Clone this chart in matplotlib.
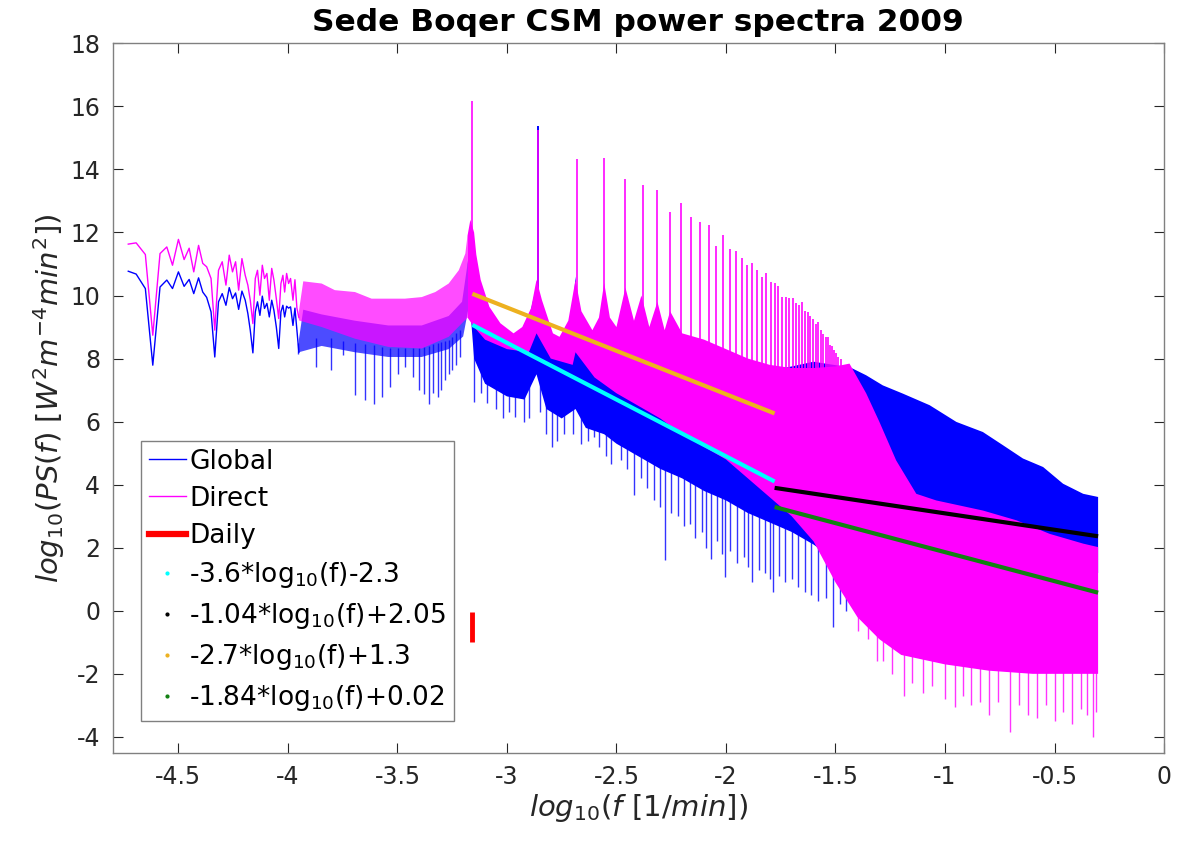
import numpy as np
import matplotlib
matplotlib.use('Agg')
import matplotlib.pyplot as plt
from matplotlib.lines import Line2D
from matplotlib.ticker import FuncFormatter

plt.rcParams['font.family'] = ['DejaVu Sans']
plt.rcParams['axes.unicode_minus'] = False
plt.rcParams['mathtext.fontset'] = 'dejavusans'

# ---------------- data ----------------
# low-frequency part of the spectra (individual points)
lf_x = [-4.729, -4.693, -4.651, -4.617, -4.584, -4.553, -4.527, -4.500, -4.474, -4.451,
        -4.430, -4.408, -4.389, -4.371, -4.351, -4.334, -4.317, -4.300, -4.283, -4.268,
        -4.253, -4.239, -4.225, -4.210, -4.195, -4.183, -4.172, -4.160, -4.149, -4.139,
        -4.128, -4.117, -4.107, -4.096, -4.085, -4.074, -4.064, -4.053, -4.042, -4.032,
        -4.023, -4.015, -4.006, -3.997, -3.988, -3.977, -3.968, -3.959, -3.950]
direct_lf = [11.63, 11.67, 11.30, 8.74, 11.33, 11.54, 10.96, 11.78, 11.14, 11.50,
             10.75, 11.59, 11.02, 10.91, 10.54, 8.90, 10.80, 11.07, 10.33, 11.28,
             10.75, 11.07, 10.17, 11.17, 10.64, 10.33, 9.85, 9.11, 10.54, 10.80,
             10.01, 10.96, 10.54, 10.70, 9.85, 10.86, 10.49, 9.90, 9.27, 10.38,
             10.64, 10.11, 10.70, 10.38, 10.54, 9.85, 10.50, 9.60, 9.30]
global_lf = [10.77, 10.68, 10.22, 7.79, 10.27, 10.49, 10.22, 10.75, 10.29, 10.51,
             10.06, 10.56, 10.11, 9.94, 9.48, 8.05, 9.80, 10.06, 9.69, 10.25,
             9.90, 10.08, 9.56, 10.14, 9.85, 9.43, 8.90, 8.18, 9.48, 9.80,
             9.37, 9.98, 9.59, 9.75, 9.32, 9.85, 9.53, 9.00, 8.32, 9.48,
             9.69, 9.32, 9.66, 9.60, 9.64, 9.05, 9.60, 8.90, 8.20]

# dense part: envelopes of the Direct spectrum
dir_up_x = [-3.950, -3.930, -3.846, -3.786, -3.694, -3.618, -3.542, -3.466, -3.389, -3.327,
            -3.266, -3.220, -3.190, -3.180, -3.167, -3.150, -3.140, -3.120, -3.080, -3.030,
            -2.970, -2.930, -2.890, -2.865, -2.840, -2.790, -2.760, -2.720, -2.687, -2.660,
            -2.610, -2.580, -2.556, -2.530, -2.500, -2.459, -2.420, -2.386, -2.350, -2.313,
            -2.280, -2.255, -2.200, -2.100, -2.000, -1.900, -1.800, -1.700, -1.600, -1.500,
            -1.436, -1.360, -1.300, -1.223, -1.131, -1.040, -0.827, -0.674, -0.522, -0.369,
            -0.301]
dir_up_y = [9.50, 10.45, 10.38, 10.17, 10.11, 9.90, 9.90, 9.90, 9.95, 10.11,
            10.38, 10.80, 11.33, 11.90, 12.40, 12.00, 11.30, 10.50, 9.64, 9.12,
            8.80, 9.00, 9.60, 10.50, 9.85, 8.80, 8.69, 9.20, 10.50, 9.50,
            8.90, 9.30, 10.40, 9.30, 9.00, 10.25, 9.20, 10.00, 9.00, 9.80,
            8.90, 9.50, 8.80, 8.60, 8.30, 8.00, 7.80, 7.70, 7.70, 7.75,
            7.84, 6.90, 6.00, 4.77, 3.71, 3.50, 3.18, 2.87, 2.44, 2.13,
            2.02]
dir_lo_x = [-3.950, -3.846, -3.694, -3.542, -3.389, -3.266, -3.180, -3.150, -3.100, -3.000,
            -2.900, -2.865, -2.800, -2.700, -2.687, -2.600, -2.500, -2.400, -2.300, -2.200,
            -2.100, -2.000, -1.900, -1.800, -1.700, -1.600, -1.500, -1.400, -1.300, -1.200,
            -1.000, -0.800, -0.600, -0.301]
dir_lo_y = [9.21, 9.00, 8.63, 8.37, 8.32, 8.69, 9.30, 9.00, 8.60, 8.30,
            8.20, 8.80, 8.00, 7.80, 8.20, 7.40, 6.90, 6.50, 6.10, 5.60,
            5.20, 4.80, 4.20, 3.60, 3.00, 2.20, 0.90, -0.20, -0.90, -1.40,
            -1.70, -1.90, -2.00, -2.00]
dir_spike_x = [-1.397, -1.350, -1.310, -1.281, -1.240, -1.187, -1.150, -1.100, -1.060, -1.000,
               -0.956, -0.920, -0.880, -0.840, -0.800, -0.760, -0.704, -0.660, -0.620, -0.580,
               -0.540, -0.500, -0.460, -0.420, -0.380, -0.350, -0.326, -0.310]
dir_spike_y = [-0.63, -0.90, -1.60, -1.58, -2.00, -2.69, -2.30, -2.60, -2.40, -2.80,
               -3.06, -2.70, -3.00, -2.90, -3.30, -2.90, -3.85, -3.00, -3.30, -3.40,
               -3.00, -3.50, -3.20, -3.60, -3.10, -3.30, -4.00, -3.20]

# dense part: envelopes of the Global spectrum
glob_up_x = [-3.950, -3.930, -3.846, -3.694, -3.542, -3.389, -3.266, -3.205, -3.180, -3.160,
             -3.140, -3.100, -3.000, -2.920, -2.865, -2.840, -2.760, -2.710, -2.687, -2.660,
             -2.600, -2.556, -2.520, -2.459, -2.420, -2.386, -2.350, -2.313, -2.200, -2.000,
             -1.800, -1.600, -1.436, -1.421, -1.360, -1.284, -1.193, -1.070, -0.948, -0.827,
             -0.735, -0.644, -0.552, -0.461, -0.369, -0.301]
glob_up_y = [8.60, 9.55, 9.40, 9.20, 9.05, 9.05, 9.35, 9.80, 11.00, 12.05,
             10.30, 9.20, 8.80, 8.70, 10.30, 8.60, 8.30, 8.50, 10.60, 8.20,
             7.90, 9.60, 7.60, 8.80, 7.30, 8.30, 7.10, 8.00, 7.20, 7.30,
             7.60, 7.90, 7.72, 7.68, 7.47, 7.15, 6.89, 6.52, 5.99, 5.67,
             5.25, 4.83, 4.56, 4.03, 3.71, 3.61]
glob_lo_x = [-3.950, -3.846, -3.694, -3.542, -3.389, -3.266, -3.200, -3.170, -3.150, -3.100,
             -3.000, -2.920, -2.865, -2.820, -2.750, -2.687, -2.640, -2.556, -2.500, -2.400,
             -2.300, -2.200, -2.100, -2.000, -1.900, -1.800, -1.700, -1.600, -1.500, -1.400,
             -0.301]
glob_lo_y = [8.20, 8.40, 8.20, 8.05, 8.05, 8.30, 8.70, 9.80, 8.00, 7.20,
             6.80, 6.70, 7.50, 6.40, 6.10, 6.40, 5.80, 5.60, 5.30, 4.90,
             4.50, 4.20, 3.80, 3.50, 3.10, 2.80, 2.50, 2.10, 1.60, 1.20,
             1.20]
glob_spike_x = [-3.952, -3.873, -3.805, -3.747, -3.696, -3.650, -3.608, -3.571, -3.536, -3.499,
                -3.464, -3.430, -3.400, -3.381, -3.358, -3.337, -3.317, -3.299, -3.281, -3.266,
                -3.251, -3.232, -3.213, -3.152, -3.120, -3.090, -3.050, -3.020, -2.990, -2.961,
                -2.923, -2.900, -2.850, -2.820, -2.794, -2.770, -2.740, -2.700, -2.660, -2.630,
                -2.603, -2.580, -2.550, -2.527, -2.481, -2.450, -2.420, -2.390, -2.360, -2.330,
                -2.300, -2.279, -2.250, -2.220, -2.190, -2.164, -2.140, -2.110, -2.090, -2.069,
                -2.040, -2.020, -2.006, -1.980, -1.950, -1.920, -1.901, -1.879, -1.850, -1.820,
                -1.800, -1.785, -1.760, -1.730, -1.700, -1.670, -1.640, -1.610, -1.580, -1.545,
                -1.512, -1.480, -1.450]
glob_spike_y = [8.16, 7.73, 7.63, 8.10, 6.84, 6.68, 6.57, 6.78, 7.10, 7.52,
                7.73, 7.40, 7.00, 6.89, 6.57, 6.90, 6.78, 7.00, 7.31, 7.50,
                7.63, 7.80, 8.05, 6.62, 6.90, 6.60, 6.40, 6.10, 6.30, 6.15,
                5.99, 6.10, 6.30, 5.60, 5.19, 5.40, 5.60, 5.60, 5.30, 5.40,
                5.51, 5.20, 4.90, 4.67, 4.77, 4.50, 3.66, 4.20, 3.90, 3.50,
                3.30, 1.60, 3.10, 3.00, 2.70, 2.76, 2.30, 2.50, 2.00, 1.65,
                2.20, 1.80, 1.07, 1.90, 1.50, 1.70, 1.38, 0.91, 1.30, 1.20,
                1.00, 0.59, 1.10, 0.90, 1.00, 0.75, 0.60, 0.50, 0.30, 0.40,
                -0.52, 0.20, 0.00]

# harmonics of the daily cycle (k cycles per day) and their peak heights
direct_peak_k = list(range(1, 50))
direct_peak_y = [16.18, 15.25, 14.32, 14.36, 13.68, 13.50, 13.36, 12.66, 12.92, 12.48,
                 12.33, 12.25, 11.56, 11.91, 11.49, 11.41, 11.20, 10.96, 11.04, 10.80,
                 10.59, 10.72, 10.43, 10.40, 10.30, 9.95, 9.95, 9.92, 9.93, 9.75,
                 9.70, 9.80, 9.50, 9.49, 9.35, 9.25, 9.11, 9.16, 8.90, 8.79,
                 8.69, 8.67, 8.42, 8.39, 8.26, 8.18, 8.05, 8.00, 7.74]
global_peak_k = [1, 2]
global_peak_y = [12.05, 15.38]

# power-law fits: slope, intercept, x-range
fit_labels = ['-3.6*log$_{10}$(f)-2.3', '-1.04*log$_{10}$(f)+2.05',
              '-2.7*log$_{10}$(f)+1.3', '-1.84*log$_{10}$(f)+0.02']
fit_slopes = [-3.6, -1.04, -2.75, -1.84]
fit_intercepts = [-2.3, 2.05, 1.37, 0.02]
fit_x0 = [-3.158, -1.778, -3.158, -1.778]
fit_x1 = [-1.778, -0.301, -1.778, -0.301]
fit_colors = ['#00ffff', '#000000', '#edb120', '#128012']

daily_x = -3.158
daily_y = [-0.99, -0.04]

minutes_per_day = 1440.0

# ---------------- figure ----------------
fig = plt.figure(figsize=(11.79, 8.42), dpi=100)
ax = fig.add_axes([0.0956, 0.1061, 0.8917, 0.8425])

BLUE = '#0000ff'
MAG = '#ff00ff'
regions = [(-9, -3.18), (-3.18, 1)]


def band(ux, uy, lx, ly, color, alphas, z):
    ux = np.asarray(ux); uy = np.asarray(uy)
    lx = np.asarray(lx); ly = np.asarray(ly)
    for (a0, a1), a in zip(regions, alphas):
        su = (ux > a0) & (ux < a1)
        sl = (lx > a0) & (lx < a1)
        xs_u = np.r_[a0, ux[su], a1]
        xs_l = np.r_[a0, lx[sl], a1]
        xs_u = xs_u[(xs_u >= ux[0]) & (xs_u <= ux[-1])]
        xs_l = xs_l[(xs_l >= lx[0]) & (xs_l <= lx[-1])]
        px = np.r_[xs_u, xs_l[::-1]]
        py = np.r_[np.interp(xs_u, ux, uy), np.interp(xs_l, lx, ly)[::-1]]
        ax.fill(px, py, color=color, alpha=a, lw=0, zorder=z)


# Global
ax.plot(lf_x, global_lf, color=BLUE, lw=1.0, zorder=2)
band(glob_up_x, glob_up_y, glob_lo_x, glob_lo_y, BLUE, (0.7, 1.0), 2)
gsx = np.asarray(glob_spike_x)
ax.vlines(gsx, glob_spike_y, np.interp(gsx, glob_lo_x, glob_lo_y) + 0.3,
          color=BLUE, lw=1.0, alpha=0.8, zorder=2)
gpx = np.log10(np.asarray(global_peak_k) / minutes_per_day)
ax.vlines(gpx, np.interp(gpx, glob_up_x, glob_up_y) - 0.3, global_peak_y,
          color=BLUE, lw=1.4, zorder=2)

# Direct
ax.plot(lf_x, direct_lf, color=MAG, lw=1.0, zorder=3)
band(dir_up_x, dir_up_y, dir_lo_x, dir_lo_y, MAG, (0.7, 1.0), 3)
dsx = np.asarray(dir_spike_x)
ax.vlines(dsx, dir_spike_y, np.interp(dsx, dir_lo_x, dir_lo_y) + 0.3,
          color=MAG, lw=1.0, alpha=0.8, zorder=3)
dpx = np.log10(np.asarray(direct_peak_k) / minutes_per_day)
ax.vlines(dpx, np.interp(dpx, dir_up_x, dir_up_y) - 0.3, direct_peak_y,
          color=MAG, lw=1.3, alpha=0.9, zorder=3)

# fits
for s, b, x0, x1, c in zip(fit_slopes, fit_intercepts, fit_x0, fit_x1, fit_colors):
    xx = np.array([x0, x1])
    ax.plot(xx, s * xx + b, color=c, lw=3.0, zorder=5, solid_capstyle='butt')

# daily marker
ax.plot([daily_x, daily_x], daily_y, color='#ff0000', lw=3.5, zorder=5,
        solid_capstyle='butt')

# axes styling
ax.set_xlim(-4.8, 0)
ax.set_ylim(-4.5, 18)
ax.set_xticks(np.arange(-4.5, 0.01, 0.5))
ax.set_yticks(np.arange(-4, 18.1, 2))
fmt = FuncFormatter(lambda v, p: '%g' % (round(v, 6) + 0.0))
ax.xaxis.set_major_formatter(fmt)
ax.yaxis.set_major_formatter(fmt)
ax.tick_params(direction='in', length=7, width=0.8, top=True, right=True,
               labelsize=17, colors='#262626', pad=9)
for sp in ax.spines.values():
    sp.set_color('#808080')
    sp.set_linewidth(1.0)

ax.set_title('Sede Boqer CSM power spectra 2009', fontsize=22.5, fontweight='bold', pad=9)
ax.set_xlabel(r'$\mathit{log_{10}(f\ [1/min])}$', fontsize=21, color='#262626', labelpad=2)
ax.set_ylabel(r'$\mathit{log_{10}(PS(f)\ [W^{2}m^{-4}min^{2}])}$', fontsize=21,
              color='#262626', labelpad=2)

handles = [Line2D([], [], color=BLUE, lw=1),
           Line2D([], [], color=MAG, lw=1),
           Line2D([], [], color='#ff0000', lw=4.5)]
labels = ['Global', 'Direct', 'Daily']
for c, lab in zip(fit_colors, fit_labels):
    handles.append(Line2D([], [], color=c, marker='.', ls='none', markersize=4))
    labels.append(lab)
leg = ax.legend(handles, labels, loc='upper left', bbox_to_anchor=(0.0266, 0.4398),
                borderaxespad=0, fontsize=19, frameon=True, fancybox=False,
                edgecolor='#808080', handlelength=1.4, handletextpad=0.15,
                labelspacing=0.42, borderpad=0.3, framealpha=1)
leg.get_frame().set_linewidth(1.0)

fig.savefig('out.png', dpi=100, facecolor='white')
